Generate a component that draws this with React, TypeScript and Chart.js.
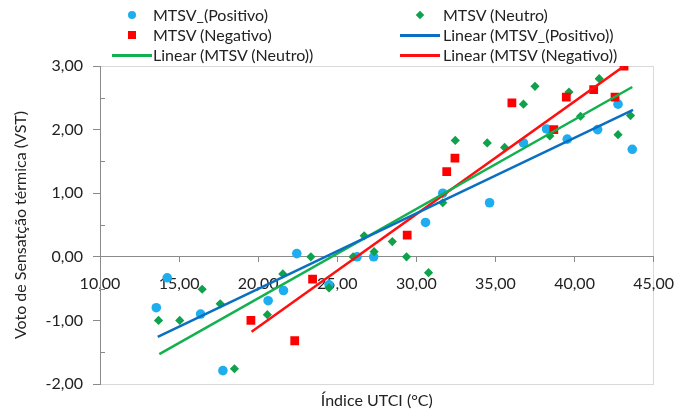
import React, { useEffect, useRef } from "react";
import { Chart, registerables } from "chart.js";

Chart.register(...registerables);

// ---- data ----
const seriesNames = [
  "MTSV_(Positivo)",
  "MTSV (Neutro)",
  "MTSV (Negativo)",
  "Linear (MTSV_(Positivo))",
  "Linear (MTSV (Neutro))",
  "Linear (MTSV (Negativo))",
];

const posX = [13.56, 14.25, 16.36, 17.77, 20.63, 21.6, 22.44, 24.48, 26.25, 27.3, 30.58, 31.67, 34.63, 36.77, 38.23, 39.54, 41.46, 42.75, 43.65];
const posY = [-0.8, -0.33, -0.9, -1.79, -0.69, -0.53, 0.05, -0.44, 0.0, 0.0, 0.54, 1.0, 0.85, 1.79, 2.01, 1.85, 2.0, 2.4, 1.69];

const neuX = [13.7, 15.04, 16.46, 17.6, 18.5, 20.58, 21.56, 23.33, 24.48, 26.0, 26.7, 27.33, 28.48, 29.38, 30.77, 31.67, 32.46, 34.48, 35.58, 36.77, 37.5, 38.44, 39.65, 40.38, 41.56, 42.75, 43.54];
const neuY = [-1.0, -1.0, -0.51, -0.74, -1.76, -0.91, -0.27, 0.0, -0.49, 0.0, 0.33, 0.08, 0.24, 0.0, -0.25, 0.85, 1.83, 1.79, 1.72, 2.4, 2.68, 1.9, 2.59, 2.21, 2.8, 1.92, 2.22];

const negX = [19.54, 22.31, 23.44, 29.42, 31.92, 32.44, 36.04, 38.69, 39.48, 41.21, 42.56, 43.13];
const negY = [-1.0, -1.32, -0.35, 0.34, 1.34, 1.55, 2.42, 2.0, 2.51, 2.63, 2.51, 3.0];

// trend lines (endpoints)
const trendPosX = [13.65, 43.7];
const trendPosY = [-1.26, 2.31];
const trendNeuX = [13.75, 43.65];
const trendNeuY = [-1.53, 2.67];
const trendNegX = [19.58, 43.08];
const trendNegY = [-1.18, 2.99];

const xMin = 10, xMax = 45, xStep = 5;
const yMin = -2, yMax = 3, yStep = 1;
const yMinorTicks = [-1.5, -0.5, 0.5, 1.5, 2.5];

const xTitle = "Índice UTCI (°C)";
const yTitle = "Voto de Sensatção térmica (VST)";

// ---- style ----
const COL = {
  pos: "#1EAEEF",
  neu: "#0FA14B",
  neg: "#FF0000",
  tPos: "#0A6FC2",
  tNeu: "#12B04E",
  tNeg: "#FF1010",
  text: "#222222",
  axis: "#8A8A8A",
  frame: "#D9D9D9",
};
const FONT = "Lato, 'Open Sans', sans-serif";

const pts = (xs: number[], ys: number[]) => xs.map((x, i) => ({ x, y: ys[i] }));
const fmt = (v: number) => v.toFixed(2).replace(".", ",");

const framePlugin = {
  id: "frame",
  beforeDraw(chart: any) {
    const { ctx, chartArea: a } = chart;
    ctx.save();
    ctx.strokeStyle = COL.frame;
    ctx.lineWidth = 1;
    ctx.strokeRect(Math.round(a.left) + 0.5, Math.round(a.top) + 0.5, Math.round(a.right - a.left) - 1, Math.round(a.bottom - a.top));
    ctx.restore();
  },
  afterDraw(chart: any) {
    const { ctx, chartArea: a, scales } = chart;
    ctx.save();
    ctx.strokeStyle = COL.axis;
    ctx.lineWidth = 1;
    for (const v of yMinorTicks) {
      const y = Math.round(scales.y.getPixelForValue(v)) + 0.5;
      ctx.beginPath();
      ctx.moveTo(a.left, y);
      ctx.lineTo(a.left + 5, y);
      ctx.stroke();
    }
    ctx.restore();
  },
};

type LegendItem = { label: string; kind: "circle" | "diamond" | "square" | "line"; color: string; col: number; row: number };
const legendItems: LegendItem[] = [
  { label: seriesNames[0], kind: "circle", color: COL.pos, col: 0, row: 0 },
  { label: seriesNames[1], kind: "diamond", color: COL.neu, col: 1, row: 0 },
  { label: seriesNames[2], kind: "square", color: COL.neg, col: 0, row: 1 },
  { label: seriesNames[3], kind: "line", color: COL.tPos, col: 1, row: 1 },
  { label: seriesNames[4], kind: "line", color: COL.tNeu, col: 0, row: 2 },
  { label: seriesNames[5], kind: "line", color: COL.tNeg, col: 1, row: 2 },
];
const colMarkerX = [131.5, 419.5];
const colTextX = [153, 443];
const rowY = [15, 35, 55];

function Marker({ item }: { item: LegendItem }) {
  const cx = colMarkerX[item.col];
  const cy = rowY[item.row];
  const base: React.CSSProperties = { position: "absolute", background: item.color };
  if (item.kind === "line") {
    return <div style={{ ...base, left: cx - 20, top: cy - 1.5, width: 40, height: 3 }} />;
  }
  if (item.kind === "circle") {
    return <div style={{ ...base, left: cx - 4, top: cy - 4, width: 8, height: 8, borderRadius: "50%" }} />;
  }
  if (item.kind === "square") {
    return <div style={{ ...base, left: cx - 4, top: cy - 4, width: 8, height: 8 }} />;
  }
  return <div style={{ ...base, left: cx - 3, top: cy - 3, width: 6, height: 6, transform: "rotate(45deg)" }} />;
}

export default function App() {
  const ref = useRef<HTMLCanvasElement | null>(null);

  useEffect(() => {
    if (!ref.current) return;
    const chart = new Chart(ref.current, {
      type: "scatter",
      data: {
        datasets: [
          { label: seriesNames[3], data: pts(trendPosX, trendPosY), showLine: true, borderColor: COL.tPos, borderWidth: 2.5, pointRadius: 0, order: 0 },
          { label: seriesNames[4], data: pts(trendNeuX, trendNeuY), showLine: true, borderColor: COL.tNeu, borderWidth: 2.5, pointRadius: 0, order: 0 },
          { label: seriesNames[5], data: pts(trendNegX, trendNegY), showLine: true, borderColor: COL.tNeg, borderWidth: 2.5, pointRadius: 0, order: 0 },
          { label: seriesNames[2], data: pts(negX, negY), pointStyle: "rect", pointRadius: 6.2, backgroundColor: COL.neg, borderColor: COL.neg, borderWidth: 0, order: 1 },
          { label: seriesNames[1], data: pts(neuX, neuY), pointStyle: "rectRot", pointRadius: 4.6, backgroundColor: COL.neu, borderColor: COL.neu, borderWidth: 0, order: 2 },
          { label: seriesNames[0], data: pts(posX, posY), pointStyle: "circle", pointRadius: 4.8, backgroundColor: COL.pos, borderColor: COL.pos, borderWidth: 0, order: 3 },
        ] as any,
      },
      options: {
        animation: false,
        responsive: false,
        maintainAspectRatio: false,
        layout: { padding: { top: 66, right: 24, left: 0, bottom: 0 } },
        plugins: { legend: { display: false }, tooltip: { enabled: false } },
        scales: {
          x: {
            type: "linear",
            position: { y: 0 } as any,
            min: xMin,
            max: xMax,
            ticks: { stepSize: xStep, color: COL.text, font: { family: FONT, size: 16 }, padding: 12, callback: (v: any) => fmt(Number(v)), maxRotation: 0, autoSkip: false },
            grid: { drawOnChartArea: false, drawTicks: true, tickLength: 5, color: COL.axis },
            border: { display: true, color: COL.axis, width: 1 },
          },
          xTitle: {
            type: "linear",
            axis: "x",
            position: "bottom",
            min: xMin,
            max: xMax,
            ticks: { display: false },
            grid: { display: false, drawTicks: false },
            border: { display: false },
            title: { display: true, text: xTitle, color: COL.text, font: { family: FONT, size: 16 }, padding: { top: 0, bottom: 4 } },
            afterFit: (s: any) => { s.height = 30; },
          } as any,
          y: {
            type: "linear",
            position: "left",
            min: yMin,
            max: yMax,
            ticks: { stepSize: yStep, color: COL.text, font: { family: FONT, size: 16 }, padding: 10, callback: (v: any) => fmt(Number(v)) },
            grid: { drawOnChartArea: false, drawTicks: true, tickLength: 7, color: COL.axis },
            border: { display: true, color: COL.axis, width: 1 },
            title: { display: true, text: yTitle, color: COL.text, font: { family: FONT, size: 16 }, padding: { top: 11, bottom: 0 } },
            afterFit: (s: any) => { s.width = 100; },
          } as any,
        },
      },
      plugins: [framePlugin],
    });
    return () => chart.destroy();
  }, []);

  return (
    <div style={{ position: "fixed", left: 0, top: 0, width: 686, height: 414, background: "#fff", fontFamily: FONT }}>
      <canvas ref={ref} width={686} height={414} style={{ position: "absolute", left: 0, top: 0, width: 686, height: 414 }} />
      {legendItems.map((it, i) => (
        <React.Fragment key={i}>
          <Marker item={it} />
          <div
            style={{
              position: "absolute",
              left: colTextX[it.col],
              top: rowY[it.row] - 10,
              height: 20,
              lineHeight: "20px",
              fontSize: 16,
              color: COL.text,
              whiteSpace: "nowrap",
            }}
          >
            {it.label}
          </div>
        </React.Fragment>
      ))}
    </div>
  );
}
